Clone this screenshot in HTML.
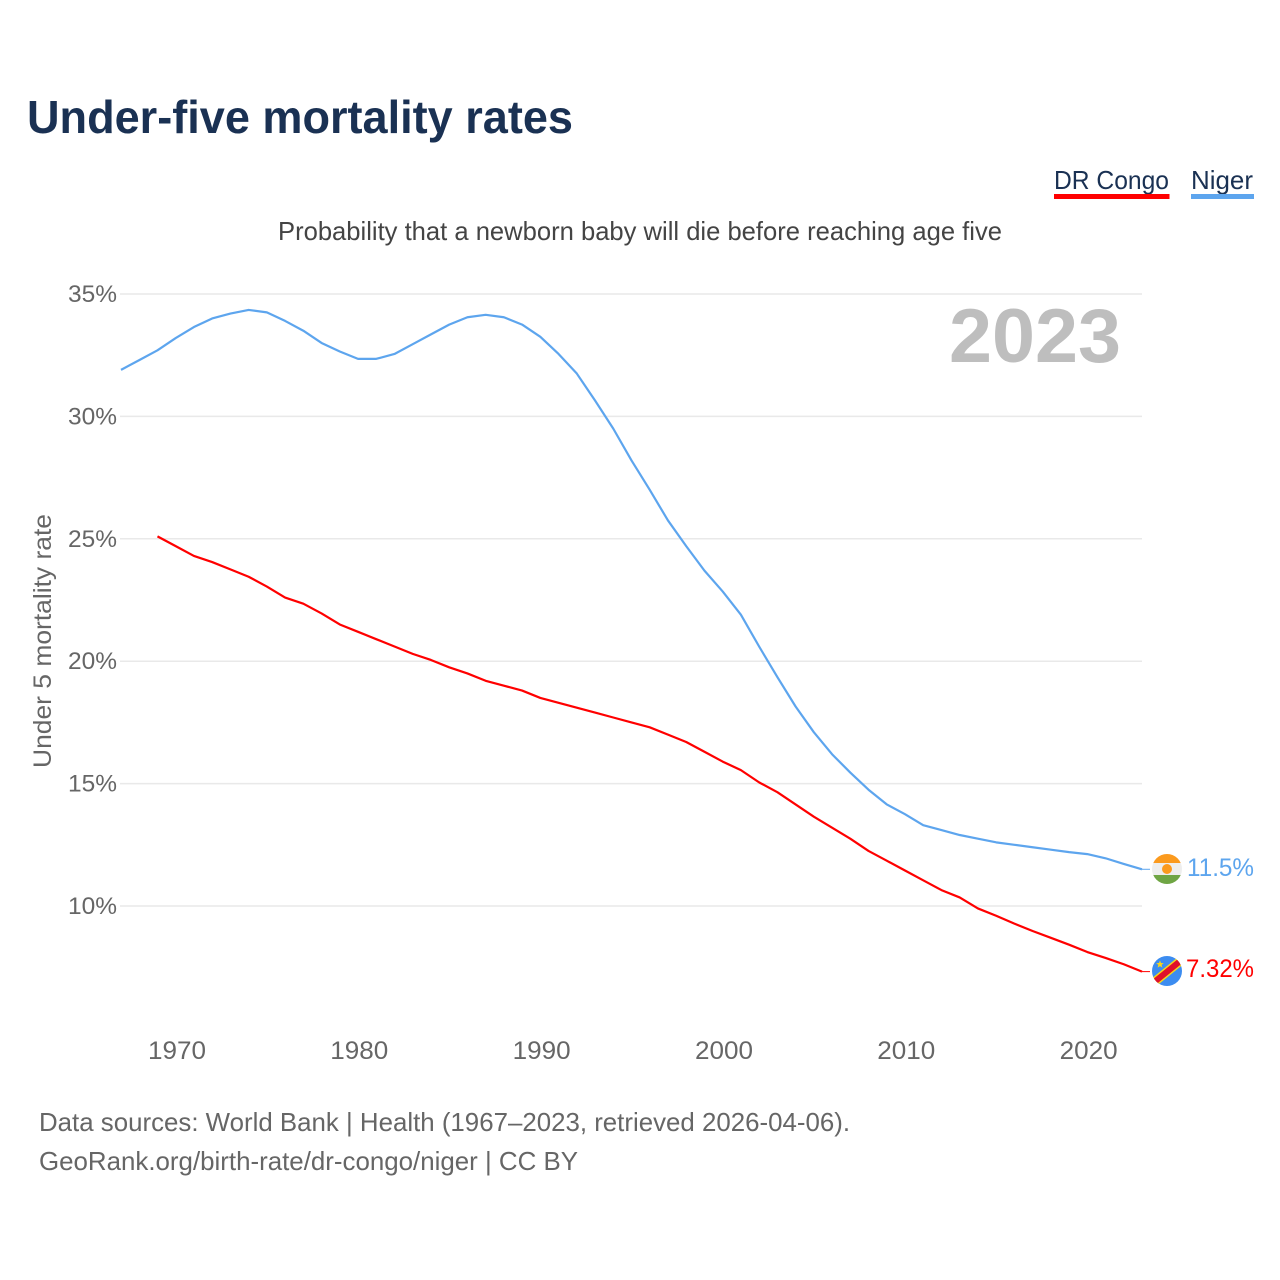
<!DOCTYPE html>
<html lang="en">
<head>
<meta charset="utf-8">
<title>Under-five mortality rates</title>
<style>
html,body{margin:0;padding:0;background:#fff;}
svg{display:block;}
text{font-family:"Liberation Sans",sans-serif;}
</style>
</head>
<body>
<svg id="chart" xmlns="http://www.w3.org/2000/svg" width="1280" height="1280" viewBox="0 0 1280 1280">
<rect width="1280" height="1280" fill="#fff"/>
<text x="27" y="133" font-size="46" font-weight="700" fill="#1a3153" textLength="546" lengthAdjust="spacingAndGlyphs">Under-five mortality rates</text>
<g>
<text x="1054" y="189" font-size="26" fill="#1a3153" textLength="115" lengthAdjust="spacingAndGlyphs">DR Congo</text>
<rect x="1054" y="194" width="115.5" height="5" fill="#ff0000"/>
</g>
<g>
<text x="1191" y="189" font-size="26" fill="#1a3153" textLength="62" lengthAdjust="spacingAndGlyphs">Niger</text>
<rect x="1191" y="194" width="63" height="5" fill="#5da5ee"/>
</g>
<text x="278" y="240" font-size="26" fill="#444444" textLength="724" lengthAdjust="spacingAndGlyphs">Probability that a newborn baby will die before reaching age five</text>
<g id="grid"></g>
<text x="949" y="362" font-size="76" font-weight="700" fill="#bebebe" textLength="172" lengthAdjust="spacingAndGlyphs">2023</text>
<g id="yticks"></g>
<g id="xticks"></g>
<text transform="translate(51,768) rotate(-90)" x="0" y="0" font-size="25" fill="#666666" textLength="254" lengthAdjust="spacingAndGlyphs">Under 5 mortality rate</text>
<g id="series"></g>
<defs>
<clipPath id="clip-ne"><circle cx="1167" cy="869" r="15"/></clipPath>
<clipPath id="clip-cd"><circle cx="1167" cy="971" r="15"/></clipPath>
</defs>
<g id="flag-niger" clip-path="url(#clip-ne)">
<rect x="1152" y="854" width="30" height="9" fill="#fb9a1e"/>
<rect x="1152" y="863" width="30" height="12" fill="#eeeeee"/>
<rect x="1152" y="875" width="30" height="9" fill="#6fa544"/>
<circle cx="1167" cy="869" r="5" fill="#fb9a1e"/>
</g>
<g id="flag-dr-congo" clip-path="url(#clip-cd)">
<rect x="1152" y="956" width="30" height="30" fill="#3c8cf0"/>
<line x1="1150" y1="985.5" x2="1184" y2="958" stroke="#f7d618" stroke-width="9"/>
<line x1="1150" y1="985.5" x2="1184" y2="958" stroke="#e0102a" stroke-width="6"/>
<polygon points="1160,960.5 1161,963 1163.8,963.2 1161.6,964.9 1162.4,967.6 1160,966.1 1157.6,967.6 1158.4,964.9 1156.2,963.2 1159,963" fill="#f7d618"/>
</g>
<text x="1187" y="876" font-size="25" fill="#5da5ee" textLength="67" lengthAdjust="spacingAndGlyphs">11.5%</text>
<text x="1186" y="977" font-size="25" fill="#ff0000" textLength="68" lengthAdjust="spacingAndGlyphs">7.32%</text>
<text x="39" y="1131" font-size="26" fill="#666666" textLength="811" lengthAdjust="spacingAndGlyphs">Data sources: World Bank | Health (1967–2023, retrieved 2026-04-06).</text>
<text x="39" y="1170" font-size="26" fill="#666666" textLength="539" lengthAdjust="spacingAndGlyphs">GeoRank.org/birth-rate/dr-congo/niger | CC BY</text>
</svg>
<script>
const yTickValues = [10, 15, 20, 25, 30, 35];
const xTickYears = [1970, 1980, 1990, 2000, 2010, 2020];
const nigerStartYear = 1967;
const nigerValues = [31.9,32.3,32.7,33.2,33.65,34.0,34.2,34.35,34.25,33.9,33.5,33.0,32.65,32.35,32.35,32.55,32.95,33.35,33.75,34.05,34.15,34.05,33.75,33.25,32.55,31.75,30.65,29.5,28.2,27.0,25.75,24.7,23.7,22.85,21.9,20.6,19.35,18.15,17.1,16.2,15.45,14.75,14.15,13.75,13.3,13.1,12.9,12.75,12.6,12.5,12.4,12.3,12.2,12.12,11.95,11.72,11.5];
const congoStartYear = 1969;
const congoValues = [25.1,24.7,24.3,24.05,23.75,23.45,23.05,22.6,22.35,21.95,21.5,21.2,20.9,20.6,20.3,20.05,19.75,19.5,19.2,19.0,18.8,18.5,18.3,18.1,17.9,17.7,17.5,17.3,17.0,16.7,16.3,15.9,15.55,15.05,14.65,14.15,13.65,13.2,12.75,12.25,11.85,11.45,11.05,10.65,10.35,9.9,9.6,9.28,8.98,8.7,8.42,8.12,7.88,7.62,7.32];

const NS = 'http://www.w3.org/2000/svg';
function xScale(year) { return 175.7 + (year - 1970) * 18.232; }
function yScale(v) { return 906 - (v - 10) * 24.48; }
function make(tag, attrs) {
  const el = document.createElementNS(NS, tag);
  for (const k in attrs) el.setAttribute(k, attrs[k]);
  return el;
}
const grid = document.getElementById('grid');
const yticks = document.getElementById('yticks');
const xticks = document.getElementById('xticks');
const series = document.getElementById('series');

yTickValues.forEach(function (v) {
  const line = make('line', {x1: 120, x2: 1142, y1: yScale(v), y2: yScale(v), stroke: '#e9e9e9', 'stroke-width': 1.5});
  
  
  grid.appendChild(line);
  const t = make('text', {x: 117, y: yScale(v) + 8, 'text-anchor': 'end', 'font-size': 24.5, fill: '#666666', textLength: 49, lengthAdjust: 'spacingAndGlyphs'});
  
  
  t.textContent = v + '%';
  yticks.appendChild(t);
});
xTickYears.forEach(function (y) {
  const t = make('text', {x: xScale(y) - 27.7, y: 1059, 'font-size': 25, fill: '#666666', textLength: 58, lengthAdjust: 'spacingAndGlyphs'});
  
  
  t.textContent = y;
  xticks.appendChild(t);
});
function pathFor(values, startYear) {
  return values.map(function (v, i) {
    return (i ? 'L' : 'M') + xScale(startYear + i).toFixed(2) + ' ' + yScale(v).toFixed(2);
  }).join(' ');
}
const nigerLine = make('path', {d: pathFor(nigerValues, nigerStartYear), fill: 'none', stroke: '#5da5ee', 'stroke-width': 2.2, 'stroke-linejoin': 'round'});


series.appendChild(nigerLine);
const congoLine = make('path', {d: pathFor(congoValues, congoStartYear), fill: 'none', stroke: '#ff0000', 'stroke-width': 2.2, 'stroke-linejoin': 'round'});


series.appendChild(congoLine);

const lastYear = nigerStartYear + nigerValues.length - 1;
const nigerEnd = nigerValues[nigerValues.length - 1];
const congoEnd = congoValues[congoValues.length - 1];
const nigerLead = make('line', {x1: xScale(lastYear), x2: 1150, y1: yScale(nigerEnd), y2: yScale(nigerEnd), stroke: '#5da5ee', 'stroke-width': 1});


series.appendChild(nigerLead);
const congoLead = make('line', {x1: xScale(lastYear), x2: 1150, y1: yScale(congoEnd), y2: yScale(congoEnd), stroke: '#ff0000', 'stroke-width': 1});


series.appendChild(congoLead);
</script>
</body>
</html>
